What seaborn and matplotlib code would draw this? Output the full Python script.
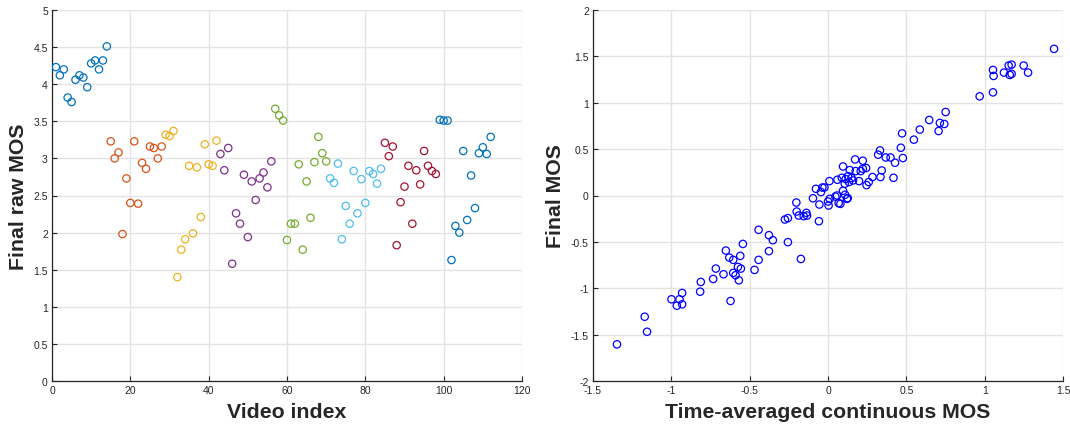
import numpy as np
import pandas as pd
import matplotlib
matplotlib.use("Agg")
import matplotlib.pyplot as plt
import seaborn as sns
from matplotlib.ticker import FormatStrFormatter, MultipleLocator

# ---------------- data ----------------
video_index = list(range(1, 113))
raw_mos = [
    4.23, 4.12, 4.20, 3.82, 3.76, 4.06, 4.12, 4.09, 3.96, 4.28, 4.32, 4.20, 4.32, 4.51,
    3.23, 3.00, 3.08, 1.98, 2.73, 2.40, 3.23, 2.39, 2.94, 2.86, 3.16, 3.14, 3.00, 3.16,
    3.32, 3.30, 3.37, 1.40, 1.77, 1.91, 2.90, 1.99, 2.88, 2.21, 3.19, 2.92, 2.90, 3.24,
    3.06, 2.84, 3.14, 1.58, 2.26, 2.12, 2.78, 1.94, 2.69, 2.44, 2.73, 2.81, 2.61, 2.96,
    3.67, 3.58, 3.51, 1.90, 2.12, 2.12, 2.92, 1.77, 2.69, 2.20, 2.95, 3.29, 3.07, 2.96,
    2.73, 2.67, 2.93, 1.91, 2.36, 2.12, 2.83, 2.26, 2.72, 2.40, 2.83, 2.79, 2.66, 2.86,
    3.21, 3.03, 3.16, 1.83, 2.41, 2.62, 2.90, 2.12, 2.84, 2.65, 3.10, 2.90, 2.83, 2.79,
    3.52, 3.51, 3.51, 1.63, 2.09, 2.00, 3.10, 2.17, 2.77, 2.33, 3.07, 3.15, 3.06, 3.29,
]
group_size = 14
group_colors = ["#0072BD", "#D95319", "#EDB120", "#7E2F8E",
                "#77AC30", "#4DBEEE", "#A2142F", "#0072BD"]

time_avg_mos = [
    -1.347, -1.170, -1.155, -0.999, -0.965, -0.948, -0.931, -0.931, -0.816, -0.812,
    -0.733, -0.716, -0.667, -0.652, -0.630, -0.605, -0.622, -0.605, -0.590, -0.575,
    -0.569, -0.556, -0.560, -0.543, -0.469, -0.443, -0.443, -0.377, -0.377, -0.352,
    -0.275, -0.256, -0.256, -0.202, -0.200, -0.187, -0.173, -0.155, -0.138, -0.134,
    -0.096, -0.058, -0.055, -0.077, -0.045, -0.036, -0.023, 0.004, 0.000, 0.011,
    0.009, 0.047, 0.058, 0.060, 0.068, 0.079, 0.088, 0.096, 0.096, 0.109,
    0.121, 0.126, 0.107, 0.113, 0.128, 0.139, 0.134, 0.150, 0.160, 0.173,
    0.177, 0.198, 0.209, 0.222, 0.222, 0.243, 0.246, 0.260, 0.284, 0.320,
    0.332, 0.335, 0.343, 0.369, 0.399, 0.418, 0.428, 0.465, 0.478, 0.473,
    0.548, 0.586, 0.646, 0.706, 0.714, 0.742, 0.751, 0.968, 1.053, 1.053,
    1.057, 1.123, 1.153, 1.172, 1.160, 1.172, 1.249, 1.277, 1.443,
]
final_mos = [
    -1.605, -1.307, -1.469, -1.119, -1.188, -1.119, -1.051, -1.173, -1.037, -0.932,
    -0.900, -0.788, -0.849, -0.594, -0.669, -0.694, -1.137, -0.835, -0.860, -0.770,
    -0.914, -0.788, -0.651, -0.522, -0.802, -0.370, -0.694, -0.428, -0.600, -0.482,
    -0.259, -0.244, -0.503, -0.076, -0.173, -0.216, -0.684, -0.223, -0.187, -0.216,
    -0.030, -0.277, -0.097, 0.072, 0.037, 0.086, 0.086, -0.108, -0.065, -0.036,
    0.155, -0.011, 0.000, 0.170, -0.082, -0.090, 0.191, 0.313, 0.051, 0.008,
    -0.036, -0.028, 0.126, 0.177, 0.209, 0.274, 0.145, 0.188, 0.162, 0.389,
    0.263, 0.155, 0.263, 0.375, 0.288, 0.296, 0.112, 0.145, 0.199, 0.440,
    0.486, 0.199, 0.270, 0.410, 0.410, 0.191, 0.353, 0.515, 0.404, 0.670,
    0.602, 0.711, 0.814, 0.695, 0.782, 0.771, 0.900, 1.069, 1.112, 1.354,
    1.289, 1.325, 1.401, 1.411, 1.300, 1.311, 1.401, 1.325, 1.581,
]

# ---------------- style ----------------
sns.set_theme(style="white")
plt.rcParams["font.family"] = ["Liberation Sans", "DejaVu Sans"]
text_col = "#262626"
grid_col = "#e3e3e3"

fig = plt.figure(figsize=(10.70, 4.27), dpi=100)
ax1 = fig.add_axes([52 / 1070, 45 / 427, 470 / 1070, 371 / 427])
ax2 = fig.add_axes([593 / 1070, 45 / 427, 470 / 1070, 371 / 427])

df1 = pd.DataFrame({"idx": video_index, "mos": raw_mos})
df1["group"] = [(i - 1) // group_size for i in video_index]
df1["color"] = [group_colors[g] for g in df1["group"]]

sns.scatterplot(data=df1, x="idx", y="mos", hue="color",
                palette={c: c for c in group_colors}, legend=False,
                ax=ax1, s=28, marker="o", linewidth=0.9, zorder=3)
for coll in ax1.collections:
    fc = coll.get_facecolors()
    coll.set_edgecolors(fc)
    coll.set_facecolors("none")

df2 = pd.DataFrame({"x": time_avg_mos, "y": final_mos})
sns.scatterplot(data=df2, x="x", y="y", ax=ax2, s=28, marker="o",
                facecolors="none", edgecolor="#0000FF", linewidth=0.9, zorder=3)

def style(ax, xlim, ylim, xstep, ystep, xlabel, ylabel):
    ax.set_xlim(*xlim)
    ax.set_ylim(*ylim)
    ax.xaxis.set_major_locator(MultipleLocator(xstep))
    ax.yaxis.set_major_locator(MultipleLocator(ystep))
    ax.xaxis.set_major_formatter(FormatStrFormatter("%g"))
    ax.yaxis.set_major_formatter(FormatStrFormatter("%g"))
    ax.grid(True, color=grid_col, linewidth=1.0, zorder=0)
    ax.set_axisbelow(True)
    for side in ["top", "right"]:
        ax.spines[side].set_visible(False)
    for side in ["left", "bottom"]:
        ax.spines[side].set_color(text_col)
        ax.spines[side].set_linewidth(0.9)
    ax.tick_params(axis="both", direction="in", length=3.5, width=0.8,
                   colors=text_col, labelsize=7.5, pad=3,
                   left=True, bottom=True)
    ax.set_xlabel(xlabel, fontsize=15.3, fontweight="bold", color=text_col, labelpad=5)
    ax.set_ylabel(ylabel, fontsize=15.3, fontweight="bold", color=text_col, labelpad=4)

style(ax1, (0, 120), (0, 5), 20, 0.5, "Video index", "Final raw MOS")
style(ax2, (-1.5, 1.5), (-2, 2), 0.5, 0.5, "Time-averaged continuous MOS", "Final MOS")

fig.savefig("out.png", dpi=100)
